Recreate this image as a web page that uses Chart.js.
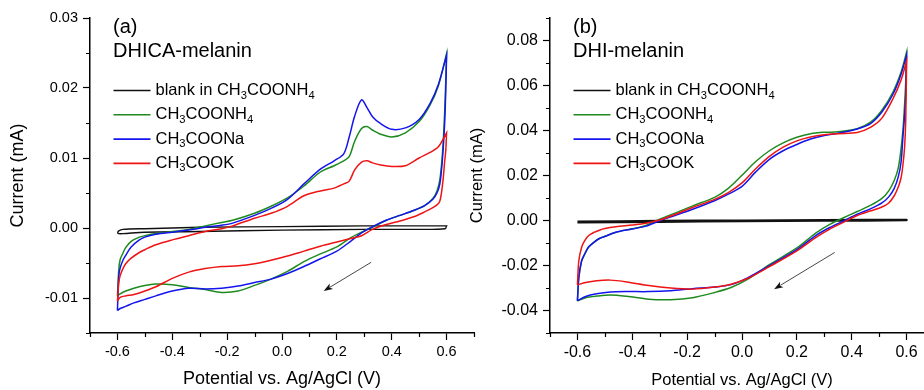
<!DOCTYPE html>
<html><head><meta charset="utf-8">
<script src="https://cdn.jsdelivr.net/npm/chart.js@4.4.1/dist/chart.umd.min.js"></script>
<style>
html,body{margin:0;padding:0;background:#fff;overflow:hidden;}
#wrap{position:relative;width:924px;height:390px;overflow:hidden;background:#fff;}
#ca{position:absolute;left:0;top:0;}
#cb{position:absolute;left:462px;top:0;}
</style></head><body>
<div id="wrap"><canvas id="ca" width="476" height="390"></canvas><canvas id="cb" width="472" height="390"></canvas></div>
<script>
// ---------- legend / labels ----------
const SERIES_NAMES = ['blank in CH3COONH4', 'CH3COONH4', 'CH3COONa', 'CH3COOK'];
const PANEL_TAGS = ['(a)', '(b)'];
const PANEL_NAMES = ['DHICA-melanin', 'DHI-melanin'];
const X_TITLE = 'Potential vs. Ag/AgCl (V)';
const Y_TITLE = 'Current (mA)';

// ---------- ticks ----------
const X_TICKS = [-0.6, -0.4, -0.2, 0, 0.2, 0.4, 0.6];
const X_TICK_LABELS = ['-0.6', '-0.4', '-0.2', '0.0', '0.2', '0.4', '0.6'];
const X_MINOR = [-0.7, -0.5, -0.3, -0.1, 0.1, 0.3, 0.5, 0.7];
const A_Y_TICKS = [-0.01, 0, 0.01, 0.02, 0.03];
const A_Y_TICK_LABELS = ['-0.01', '0.00', '0.01', '0.02', '0.03'];
const A_Y_MINOR = [-0.015, -0.005, 0.005, 0.015, 0.025];
const B_Y_TICKS = [-0.04, -0.02, 0, 0.02, 0.04, 0.06, 0.08];
const B_Y_TICK_LABELS = ['-0.04', '-0.02', '0.00', '0.02', '0.04', '0.06', '0.08'];
const B_Y_MINOR = [-0.05, -0.03, -0.01, 0.01, 0.03, 0.05, 0.07, 0.09];

// ---------- panel (a) DHICA-melanin : potential (V) / current (mA) ----------
const A_BLANK_FWD_V = [-0.6, -0.595, -0.58, -0.5, -0.3, 0, 0.3, 0.6];
const A_BLANK_FWD   = [-0.0007, -0.0004, -0.0002, -0.0001, 0.0001, 0.0002, 0.0003, 0.0003];
const A_BLANK_REV_V = [0.6, 0.595, 0.5, 0.3, 0, -0.3, -0.5, -0.58, -0.595, -0.6];
const A_BLANK_REV   = [0.0003, -0.0001, -0.0002, -0.0002, -0.0003, -0.0005, -0.0006, -0.0008, -0.0008, -0.0007];

const A_FWD_V = [-0.6, -0.595, -0.59, -0.58, -0.57, -0.55, -0.52, -0.5, -0.46, -0.4, -0.34, -0.28, -0.22, -0.18, -0.1, -0.04, 0.02, 0.08, 0.14, 0.19, 0.225, 0.245, 0.265, 0.29, 0.31, 0.33, 0.36, 0.4, 0.45, 0.5, 0.54, 0.57, 0.6];
const A_NH4_FWD = [-0.0097, -0.0059, -0.0045, -0.0036, -0.0028, -0.0019, -0.0013, -0.0011, -0.0008, -0.0005, -0.0002, 0.0003, 0.0008, 0.0011, 0.0021, 0.0031, 0.0043, 0.006, 0.008, 0.0089, 0.0096, 0.0102, 0.0124, 0.0142, 0.0145, 0.014, 0.0134, 0.013, 0.0136, 0.0152, 0.0176, 0.0203, 0.0249];
const A_NA_FWD  = [-0.0118, -0.0068, -0.0057, -0.0046, -0.0039, -0.0027, -0.0017, -0.0013, -0.0009, -0.0006, -0.0003, 0.0001, 0.0004, 0.0007, 0.0018, 0.0028, 0.0041, 0.0063, 0.0084, 0.0096, 0.0106, 0.013, 0.016, 0.0183, 0.0172, 0.0159, 0.0149, 0.0141, 0.0143, 0.0155, 0.0178, 0.0205, 0.0247];
const A_K_FWD   = [-0.0105, -0.0078, -0.0068, -0.0058, -0.0051, -0.0043, -0.0035, -0.0031, -0.0024, -0.0017, -0.0011, -0.0005, -0.0001, 0.0003, 0.0014, 0.0021, 0.0031, 0.0046, 0.0053, 0.0057, 0.0063, 0.0067, 0.0083, 0.0094, 0.0096, 0.0093, 0.009, 0.0088, 0.0089, 0.01, 0.0108, 0.0116, 0.0136];

const A_REV_V = [0.6, 0.597, 0.593, 0.588, 0.582, 0.575, 0.565, 0.55, 0.52, 0.48, 0.43, 0.38, 0.33, 0.29, 0.25, 0.2, 0.14, 0.08, 0.02, -0.04, -0.1, -0.16, -0.22, -0.28, -0.34, -0.4, -0.46, -0.5, -0.54, -0.57, -0.59, -0.6];
const A_NH4_REV = [0.0249, 0.021, 0.0165, 0.0125, 0.0092, 0.0068, 0.0053, 0.0042, 0.0032, 0.0025, 0.0018, 0.0011, 0.0001, -0.0006, -0.0014, -0.0027, -0.0037, -0.0048, -0.0062, -0.0073, -0.0082, -0.009, -0.0092, -0.0088, -0.0085, -0.0081, -0.008, -0.0082, -0.0086, -0.009, -0.0094, -0.0097];
const A_NA_REV  = [0.0247, 0.0195, 0.015, 0.0115, 0.0085, 0.0062, 0.005, 0.0041, 0.0032, 0.0025, 0.0018, 0.0011, 0.0002, -0.0007, -0.0019, -0.0033, -0.0044, -0.0055, -0.0065, -0.0073, -0.0078, -0.0083, -0.0086, -0.0087, -0.0086, -0.009, -0.0097, -0.0102, -0.0107, -0.0112, -0.0115, -0.0118];
const A_K_REV   = [0.0136, 0.011, 0.0095, 0.0072, 0.0052, 0.0038, 0.0033, 0.0029, 0.0023, 0.0016, 0.001, 0.0005, -0.0002, -0.0011, -0.0015, -0.002, -0.0026, -0.0033, -0.004, -0.0046, -0.0051, -0.0054, -0.0055, -0.0058, -0.0063, -0.0072, -0.0084, -0.009, -0.0095, -0.0097, -0.0099, -0.0104];
const A_ARROW = [0.325, -0.0049, 0.152, -0.009];

// ---------- panel (b) DHI-melanin ----------
const B_BLANK_FWD_V = [-0.6, -0.3, 0, 0.3, 0.6];
const B_BLANK_FWD   = [-0.0005, -0.0002, 0.0, 0.0002, 0.0003];
const B_BLANK_REV_V = [0.6, 0.3, 0, -0.3, -0.6];
const B_BLANK_REV   = [0.0001, -0.0001, -0.0003, -0.0006, -0.0009];

const B_FWD_V = [-0.6, -0.595, -0.585, -0.575, -0.56, -0.54, -0.52, -0.5, -0.46, -0.4, -0.35, -0.3, -0.24, -0.18, -0.1, -0.05, 0, 0.05, 0.1, 0.15, 0.2, 0.25, 0.3, 0.35, 0.42, 0.47, 0.51, 0.55, 0.58, 0.6];
const B_NH4_FWD = [-0.0357, -0.0255, -0.0182, -0.0153, -0.0119, -0.0097, -0.008, -0.007, -0.0052, -0.0037, -0.0022, 0.0006, 0.0035, 0.0065, 0.0103, 0.0143, 0.0201, 0.0262, 0.031, 0.0345, 0.037, 0.0386, 0.0392, 0.0394, 0.0408, 0.0438, 0.049, 0.057, 0.066, 0.0748];
const B_NA_FWD  = [-0.0357, -0.0253, -0.018, -0.0153, -0.0119, -0.0097, -0.008, -0.0071, -0.0052, -0.0038, -0.0025, -0.0001, 0.0024, 0.005, 0.0088, 0.0117, 0.0152, 0.0216, 0.0272, 0.031, 0.0338, 0.0362, 0.0378, 0.0388, 0.0407, 0.0432, 0.0482, 0.056, 0.065, 0.0735];
const B_K_FWD   = [-0.0286, -0.018, -0.012, -0.0093, -0.0068, -0.0053, -0.0043, -0.0036, -0.0028, -0.002, -0.0012, 0.0002, 0.0029, 0.0058, 0.0094, 0.0124, 0.0167, 0.023, 0.0285, 0.0326, 0.0354, 0.0371, 0.0381, 0.0386, 0.0391, 0.0415, 0.0455, 0.054, 0.0625, 0.0709];

const B_REV_V = [0.6, 0.597, 0.593, 0.587, 0.58, 0.57, 0.555, 0.535, 0.51, 0.47, 0.42, 0.37, 0.32, 0.27, 0.2, 0.1, 0.02, -0.04, -0.1, -0.18, -0.26, -0.34, -0.42, -0.48, -0.53, -0.57, -0.6];
const B_NH4_REV = [0.0748, 0.062, 0.052, 0.0406, 0.032, 0.0235, 0.0178, 0.0132, 0.0098, 0.0068, 0.004, 0.0012, -0.0017, -0.0055, -0.0122, -0.0196, -0.0262, -0.0298, -0.032, -0.0343, -0.0352, -0.035, -0.0337, -0.0331, -0.0336, -0.0343, -0.0357];
const B_NA_REV  = [0.0735, 0.056, 0.047, 0.0376, 0.026, 0.0195, 0.0143, 0.0105, 0.0078, 0.0053, 0.0028, -0.0002, -0.0031, -0.0066, -0.013, -0.0201, -0.0255, -0.0285, -0.0296, -0.0303, -0.0312, -0.0316, -0.0316, -0.0318, -0.0326, -0.0338, -0.0357];
const B_K_REV   = [0.0709, 0.045, 0.033, 0.025, 0.019, 0.015, 0.011, 0.0078, 0.006, 0.0043, 0.0022, -0.0008, -0.0038, -0.0075, -0.0135, -0.0205, -0.0258, -0.0283, -0.0296, -0.0305, -0.03, -0.0289, -0.0273, -0.0265, -0.0268, -0.0276, -0.0286];
const B_ARROW = [0.338, -0.0142, 0.117, -0.0305];

// ---------- drawing ----------
const FONT = "'Liberation Sans', Arial, Helvetica, sans-serif";
const COLORS = ['#111111', '#1f8a1f', '#1414ee', '#ee1414'];

function loop(vf, cf, vr, cr) {
  const out = [];
  vf.forEach((v, i) => out.push({x: v, y: cf[i]}));
  vr.forEach((v, i) => out.push({x: v, y: cr[i]}));
  return out;
}

function richText(ctx, str, x, y, size) {
  let cx = x;
  const re = /(\d+)|(\D+)/g; let m;
  ctx.textBaseline = 'middle'; ctx.textAlign = 'left'; ctx.fillStyle = '#000';
  while ((m = re.exec(str))) {
    if (m[1]) {
      ctx.font = (size * 0.68).toFixed(1) + 'px ' + FONT;
      ctx.fillText(m[1], cx, y + size * 0.3);
      cx += ctx.measureText(m[1]).width;
    } else {
      ctx.font = size + 'px ' + FONT;
      ctx.fillText(m[2], cx, y);
      cx += ctx.measureText(m[2]).width;
    }
  }
}

function buildPanel(id, p) {
  const decor = {
    id: 'decor' + id,
    afterDraw(chart) {
      const ctx = chart.ctx, area = chart.chartArea;
      const xs = chart.scales.x, ys = chart.scales.y;
      ctx.save();
      // minor ticks
      ctx.strokeStyle = '#000'; ctx.lineWidth = 1.2;
      ctx.beginPath();
      X_MINOR.forEach(v => { const px = Math.round(xs.getPixelForValue(v)) + 0.5; ctx.moveTo(px, area.bottom); ctx.lineTo(px, area.bottom + 4); });
      p.yMinor.forEach(v => { const py = Math.round(ys.getPixelForValue(v)) + 0.5; ctx.moveTo(area.left, py); ctx.lineTo(area.left - 4, py); });
      ctx.stroke();
      // panel tag + name
      ctx.fillStyle = '#000'; ctx.textBaseline = 'middle'; ctx.textAlign = 'left';
      ctx.font = '20px ' + FONT;
      ctx.fillText(p.tag, area.left + 23, area.top + 9);
      ctx.fillText(p.name, area.left + 23, area.top + 33);
      // legend
      SERIES_NAMES.forEach((name, i) => {
        const y = area.top + 72.5 + i * 24.3;
        ctx.strokeStyle = COLORS[i]; ctx.lineWidth = 1.6;
        ctx.beginPath(); ctx.moveTo(area.left + 23.5, y); ctx.lineTo(area.left + 60.5, y); ctx.stroke();
        richText(ctx, name, area.left + 65.5, y, 16.5);
      });
      // arrow
      const x1 = xs.getPixelForValue(p.arrow[0]), y1 = ys.getPixelForValue(p.arrow[1]);
      const x2 = xs.getPixelForValue(p.arrow[2]), y2 = ys.getPixelForValue(p.arrow[3]);
      const ang = Math.atan2(y2 - y1, x2 - x1);
      const hl = 9, hw = 3.2;
      ctx.strokeStyle = '#333'; ctx.lineWidth = 0.9;
      ctx.beginPath(); ctx.moveTo(x1, y1); ctx.lineTo(x2 - hl * 0.8 * Math.cos(ang), y2 - hl * 0.8 * Math.sin(ang)); ctx.stroke();
      ctx.fillStyle = '#111';
      ctx.beginPath();
      ctx.moveTo(x2, y2);
      ctx.lineTo(x2 - hl * Math.cos(ang) + hw * Math.sin(ang), y2 - hl * Math.sin(ang) - hw * Math.cos(ang));
      ctx.lineTo(x2 - hl * 0.75 * Math.cos(ang), y2 - hl * 0.75 * Math.sin(ang));
      ctx.lineTo(x2 - hl * Math.cos(ang) - hw * Math.sin(ang), y2 - hl * Math.sin(ang) + hw * Math.cos(ang));
      ctx.closePath(); ctx.fill();
      ctx.restore();
    }
  };
  return new Chart(document.getElementById(id), {
    type: 'scatter',
    data: {
      datasets: p.series.map((s, i) => ({
        label: SERIES_NAMES[i], data: s, showLine: true, pointRadius: 0, pointHoverRadius: 0,
        borderColor: COLORS[i], backgroundColor: COLORS[i], borderWidth: i === 0 ? p.blankWidth : 1.5,
        tension: 0.3, fill: false, order: 4 - i
      }))
    },
    options: {
      responsive: false, animation: false, devicePixelRatio: 1,
      layout: {padding: {top: 18, right: p.padRight, left: 0, bottom: 0}},
      plugins: {legend: {display: false}, tooltip: {enabled: false}},
      events: [],
      scales: {
        x: {
          type: 'linear', min: -0.7, max: 0.7,
          afterBuildTicks: s => { s.ticks = X_TICKS.map(v => ({value: v})); },
          afterFit: s => { s.height = 57; },
          ticks: {callback: (v, i) => X_TICK_LABELS[i], font: {family: FONT, size: p.tickSize}, color: '#000', padding: 3, maxRotation: 0, autoSkip: false},
          grid: {display: true, drawOnChartArea: false, drawTicks: true, tickLength: 7, tickWidth: 1.2, tickColor: '#000'},
          border: {display: true, color: '#000', width: 1.5},
          title: {display: true, text: X_TITLE, color: '#000', font: {family: FONT, size: p.titleSize, lineHeight: 1.2}, padding: {top: 0, bottom: 0}}
        },
        y: {
          type: 'linear', min: p.yMin, max: p.yMax,
          afterBuildTicks: s => { s.ticks = p.yTicks.map(v => ({value: v})); },
          afterFit: s => { s.width = p.yWidth; },
          ticks: {callback: (v, i) => p.yLabels[i], font: {family: FONT, size: p.tickSize}, color: '#000', padding: 5, autoSkip: false},
          grid: {display: true, drawOnChartArea: false, drawTicks: true, tickLength: 7, tickWidth: 1.2, tickColor: '#000'},
          border: {display: true, color: '#000', width: 1.5},
          title: {display: true, text: Y_TITLE, color: '#000', font: {family: FONT, size: p.titleSize, lineHeight: 1.2}, padding: {top: p.yTitlePad, bottom: 0}}
        }
      }
    },
    plugins: [decor]
  });
}

buildPanel('ca', {
  tag: PANEL_TAGS[0], name: PANEL_NAMES[0],
  series: [
    loop(A_BLANK_FWD_V, A_BLANK_FWD, A_BLANK_REV_V, A_BLANK_REV),
    loop(A_FWD_V, A_NH4_FWD, A_REV_V, A_NH4_REV),
    loop(A_FWD_V, A_NA_FWD, A_REV_V, A_NA_REV),
    loop(A_FWD_V, A_K_FWD, A_REV_V, A_K_REV)
  ],
  yMin: -0.015, yMax: 0.03, yTicks: A_Y_TICKS, yLabels: A_Y_TICK_LABELS, yMinor: A_Y_MINOR,
  arrow: A_ARROW, tickSize: 14.5, titleSize: 18, yWidth: 90, yTitlePad: 7, padRight: 2, blankWidth: 1.4
});

buildPanel('cb', {
  tag: PANEL_TAGS[1], name: PANEL_NAMES[1],
  series: [
    loop(B_BLANK_FWD_V, B_BLANK_FWD, B_BLANK_REV_V, B_BLANK_REV),
    loop(B_FWD_V, B_NH4_FWD, B_REV_V, B_NH4_REV),
    loop(B_FWD_V, B_NA_FWD, B_REV_V, B_NA_REV),
    loop(B_FWD_V, B_K_FWD, B_REV_V, B_K_REV)
  ],
  yMin: -0.05, yMax: 0.09, yTicks: B_Y_TICKS, yLabels: B_Y_TICK_LABELS, yMinor: B_Y_MINOR,
  arrow: B_ARROW, tickSize: 16, titleSize: 16.5, yWidth: 88, yTitlePad: 6, padRight: 0, blankWidth: 2.2
});
</script>
</body></html>
